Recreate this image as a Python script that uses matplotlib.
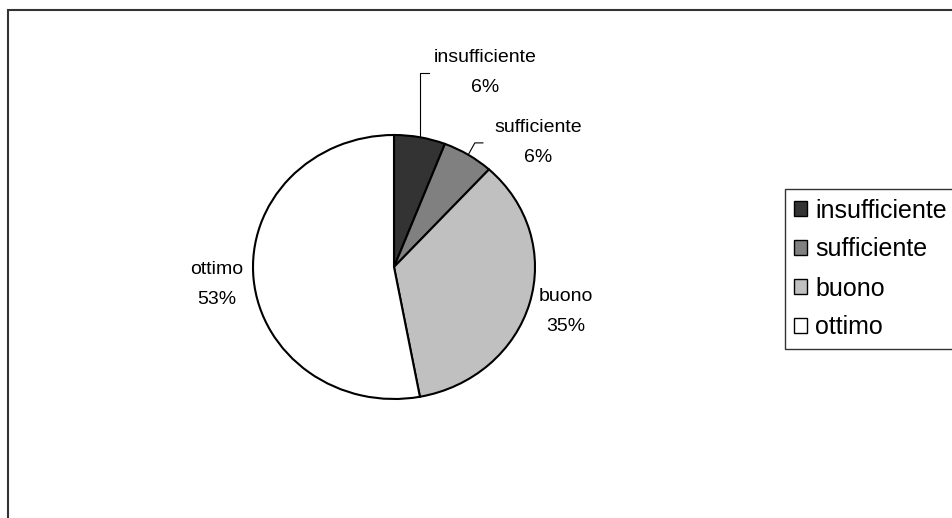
import numpy as np
import matplotlib
matplotlib.use("Agg")
import matplotlib.pyplot as plt
from matplotlib.patches import Rectangle

plt.rcParams['font.family'] = ['Liberation Sans', 'DejaVu Sans']

# dati (conteggi, 17 in totale)
categorie = ["insufficiente", "sufficiente", "buono", "ottimo"]
valori = [1, 1, 6, 9]
colori = ["#333333", "#808080", "#c0c0c0", "#ffffff"]

# posizione etichette (coordinate del cerchio unitario)
pos_etichette = [(0.645, 1.47), (1.02, 0.94), (1.22, -0.34), (-1.26, -0.13)]

fig = plt.figure(figsize=(9.53, 5.18), dpi=100)

# cornice esterna del grafico (tagliata a destra e in basso)
fig.add_artist(Rectangle((8/953, -0.1), 1.2, 1.1 - 10/518, transform=fig.transFigure,
                         fill=False, edgecolor="#333333", lw=1.5))

ax = fig.add_axes([253/953, 1-399/518, 282/953, 264/518])
wedges, _ = ax.pie(valori, colors=colori, startangle=90, counterclock=False,
                   wedgeprops=dict(edgecolor="black", linewidth=1.5))
ax.set_aspect('auto')
ax.set_xlim(-1, 1)
ax.set_ylim(-1, 1)
ax.axis('off')

tot = sum(valori)
for i, w in enumerate(wedges):
    perc = round(100 * valori[i] / tot)
    lx, ly = pos_etichette[i]
    ax.text(lx, ly, f"{categorie[i]}\n{perc}%", ha="center", va="center",
            fontsize=14, linespacing=2.0, clip_on=False)

# linee guida per le fette piccole
for i, (dy, dx) in zip([0, 1], [(0.485, 0.064), (0.09, 0.057)]):
    th = np.deg2rad((wedges[i].theta1 + wedges[i].theta2) / 2)
    x0, y0 = np.cos(th), np.sin(th)
    if i == 0:
        xs = [x0, x0, x0 + dx]
        ys = [y0, y0 + dy, y0 + dy]
    else:
        xs = [x0, x0 + 0.047, x0 + 0.047 + dx]
        ys = [y0, y0 + dy, y0 + dy]
    ax.plot(xs, ys, color="black", lw=0.8, clip_on=False)

leg = fig.legend(wedges, categorie, loc="upper left",
                 bbox_to_anchor=(785/953, 1-189/518), borderaxespad=0,
                 fontsize=18, handlelength=0.52, handleheight=0.52,
                 handletextpad=0.3, labelspacing=0.6, borderpad=0.38,
                 fancybox=False, frameon=True)
leg.get_frame().set_edgecolor("black")
leg.get_frame().set_linewidth(1.0)
for h in leg.legend_handles:
    h.set_edgecolor("black")
    h.set_linewidth(1.0)

fig.savefig("out.png", dpi=100)
